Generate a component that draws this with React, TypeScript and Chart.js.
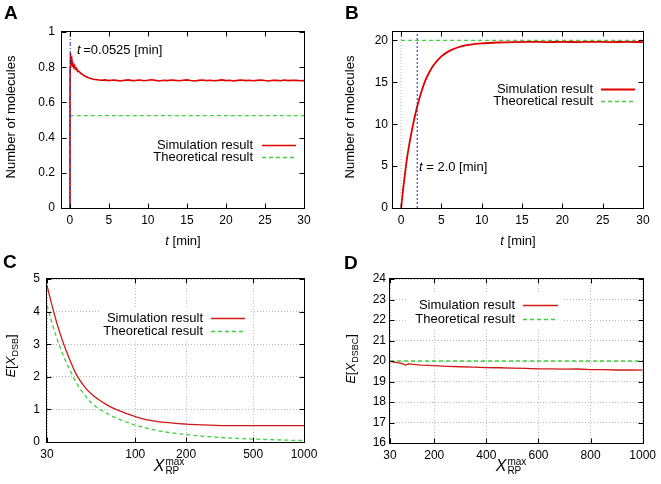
import React, { useEffect, useRef } from "react";
import { Chart, registerables } from "chart.js";

Chart.register(...registerables);

const FONT = "'Liberation Sans', Arial, Helvetica, sans-serif";
Chart.defaults.font.family = FONT;
Chart.defaults.font.size = 12;
Chart.defaults.color = "#000";

// ---------------- Panel A data ----------------
const timesA = [
  0, 0.02, 0.04, 0.05, 0.07, 0.1, 0.15, 0.2, 0.25, 0.3, 0.35, 0.4, 0.5, 0.6, 0.7, 0.8, 0.9, 1.0,
  1.2, 1.4, 1.6, 1.8, 2.0, 2.3, 2.6, 3.0,
  3.5, 4, 4.5, 5, 5.5, 6, 6.5, 7, 7.5, 8, 8.5, 9, 9.5, 10, 10.5, 11, 11.5, 12, 12.5, 13, 13.5, 14,
  14.5, 15, 15.5, 16, 16.5, 17, 17.5, 18, 18.5, 19, 19.5, 20, 20.5, 21, 21.5, 22, 22.5, 23, 23.5,
  24, 24.5, 25, 25.5, 26, 26.5, 27, 27.5, 28, 28.5, 29, 29.5, 30,
];
const simA = [
  0, 0.45, 0.8, 0.88, 0.84, 0.86, 0.82, 0.84, 0.81, 0.83, 0.8, 0.82, 0.8, 0.81, 0.79, 0.795, 0.785, 0.78,
  0.775, 0.765, 0.76, 0.752, 0.748, 0.742, 0.737, 0.732,
  0.729, 0.726, 0.728, 0.724, 0.727, 0.725, 0.722, 0.726, 0.728, 0.724,
  0.725, 0.727, 0.723, 0.726, 0.729, 0.725, 0.722, 0.726, 0.724, 0.727,
  0.725, 0.723, 0.726, 0.728, 0.724, 0.722, 0.725, 0.727, 0.724, 0.726,
  0.723, 0.725, 0.728, 0.724, 0.726, 0.722, 0.725, 0.727, 0.724, 0.726,
  0.723, 0.725, 0.727, 0.724, 0.722, 0.726, 0.725, 0.723, 0.727, 0.724,
  0.726, 0.725, 0.723, 0.724,
];
const theoA = 0.525;
const markerA = 0.0525;
const xRangeA = [-1, 30];
const yRangeA = [0, 1];
const xTicksA = [0, 5, 10, 15, 20, 25, 30];
const yTicksA = [0, 0.2, 0.4, 0.6, 0.8, 1];

// ---------------- Panel B data ----------------
const timesB = [0, 0.25, 0.5, 0.75, 1, 1.5, 2, 2.5, 3, 3.5, 4, 5, 6, 7, 8, 9, 10, 12, 14, 16, 18, 20, 22, 24, 26, 28, 30];
const simB = [0, 2.2, 4.2, 6.0, 7.5, 10.0, 12.1, 13.8, 15.2, 16.2, 17.0, 18.1, 18.75, 19.15, 19.4, 19.55, 19.65, 19.75, 19.8, 19.82, 19.8, 19.81, 19.8, 19.82, 19.8, 19.81, 19.8];
const theoB = 20;
const markerB = 2.0;
const xRangeB = [-1, 30];
const yRangeB = [0, 21];
const xTicksB = [0, 5, 10, 15, 20, 25, 30];
const yTicksB = [0, 5, 10, 15, 20];

// ---------------- Panel C data ----------------
const xC = [30, 32, 34, 36, 38, 40, 45, 50, 55, 60, 70, 80, 90, 100, 120, 150, 200, 250, 300, 400, 500, 600, 700, 800, 1000];
const simC = [4.8, 4.22, 3.72, 3.3, 2.95, 2.65, 2.05, 1.7, 1.47, 1.32, 1.1, 0.96, 0.86, 0.78, 0.67, 0.6, 0.55, 0.525, 0.51, 0.5, 0.5, 0.5, 0.5, 0.5, 0.5];
const theoC = [4.2, 3.68, 3.24, 2.88, 2.58, 2.32, 1.8, 1.45, 1.2, 1.04, 0.84, 0.7, 0.6, 0.52, 0.41, 0.31, 0.23, 0.18, 0.15, 0.11, 0.09, 0.075, 0.065, 0.055, 0.045];
const xRangeC = [30, 1000];
const yRangeC = [0, 5];
const xTicksC = [30, 100, 200, 500, 1000];
const yTicksC = [0, 1, 2, 3, 4, 5];

// ---------------- Panel D data ----------------
const xD = [30, 50, 75, 90, 100, 150, 200, 250, 300, 350, 400, 450, 500, 550, 600, 650, 700, 750, 800, 850, 900, 950, 1000];
const simD = [19.98, 19.93, 19.88, 19.8, 19.86, 19.8, 19.77, 19.74, 19.72, 19.7, 19.68, 19.67, 19.65, 19.64, 19.62, 19.62, 19.6, 19.61, 19.58, 19.58, 19.56, 19.57, 19.55];
const theoD = 20;
const xRangeD = [30, 1000];
const yRangeD = [16, 24];
const xTicksD = [30, 200, 400, 600, 800, 1000];
const yTicksD = [16, 17, 18, 19, 20, 21, 22, 23, 24];

const SIM_LABEL = "Simulation result";
const THEO_LABEL = "Theoretical result";

const RED = "#e00000";
const RED_THIN = "#d01818";
const GREEN = "#3fd03f";
const BLUE = "#2a2aa8";

const pts = (xs: number[], ys: number[]) => {
  const n = Math.min(xs.length, ys.length);
  const out: { x: number; y: number }[] = [];
  for (let i = 0; i < n; i++) out.push({ x: xs[i], y: ys[i] });
  return out;
};
const hline = (y: number, x0: number, x1: number) => [{ x: x0, y }, { x: x1, y }];
const vline = (x: number, y0: number, y1: number) => [{ x, y: y0 }, { x, y: y1 }];

type Legend = {
  textRight: number;
  lineStart: number;
  lineEnd: number;
  rows: number[];
  items: number[];
  box?: [number, number, number, number];
};

type Spec = {
  w: number;
  h: number;
  area: { left: number; top: number; right: number; bottom: number };
  xType: "linear" | "logarithmic";
  xRange: number[];
  yRange: number[];
  xTicks: number[];
  yTicks: number[];
  yFmt?: (v: number) => string;
  grid: boolean;
  yPad: number;
  xPad: number;
  datasets: any[];
  legend: Legend;
};

function gnuPlugin(spec: Spec) {
  return {
    id: "gnu",
    afterDatasetsDraw(chart: any) {
      const ctx: CanvasRenderingContext2D = chart.ctx;
      const { left, right, top, bottom } = chart.chartArea;
      ctx.save();
      const lg = spec.legend;
      if (lg.box) {
        ctx.fillStyle = "#fff";
        ctx.fillRect(lg.box[0], lg.box[1], lg.box[2], lg.box[3]);
      }
      ctx.font = `13px ${FONT}`;
      ctx.textAlign = "right";
      ctx.textBaseline = "middle";
      lg.items.forEach((di, i) => {
        const ds = chart.data.datasets[di];
        const y = lg.rows[i];
        ctx.fillStyle = "#000";
        ctx.fillText(ds.label, lg.textRight, y);
        ctx.strokeStyle = ds.borderColor;
        ctx.lineWidth = ds.borderWidth;
        ctx.setLineDash(ds.borderDash || []);
        ctx.beginPath();
        ctx.moveTo(lg.lineStart, y + 0.5);
        ctx.lineTo(lg.lineEnd, y + 0.5);
        ctx.stroke();
      });
      // frame and inward ticks
      ctx.setLineDash([]);
      ctx.strokeStyle = "#000";
      ctx.lineWidth = 1;
      const L = Math.round(left) - 0.5;
      const R = Math.round(right) + 0.5;
      const T = Math.round(top) - 0.5;
      const B = Math.round(bottom) + 0.5;
      ctx.strokeRect(L, T, R - L, B - T);
      const tl = 5;
      ctx.beginPath();
      chart.scales.x.ticks.forEach((t: any) => {
        const px = Math.round(chart.scales.x.getPixelForValue(t.value)) + 0.5;
        ctx.moveTo(px, B);
        ctx.lineTo(px, B - tl);
        ctx.moveTo(px, T);
        ctx.lineTo(px, T + tl);
      });
      chart.scales.y.ticks.forEach((t: any) => {
        const py = Math.round(chart.scales.y.getPixelForValue(t.value)) + 0.5;
        ctx.moveTo(L, py);
        ctx.lineTo(L + tl, py);
        ctx.moveTo(R, py);
        ctx.lineTo(R - tl, py);
      });
      ctx.stroke();
      ctx.restore();
    },
  };
}

function buildConfig(spec: Spec): any {
  const gridOpt = spec.grid
    ? { display: true, color: "#b8b8b8", lineWidth: 1, drawTicks: false }
    : { display: false, drawTicks: false };
  const borderOpt = { display: false, dash: spec.grid ? [1, 2] : [] };
  return {
    type: "line",
    data: { datasets: spec.datasets },
    options: {
      animation: false,
      responsive: false,
      devicePixelRatio: 1,
      layout: {
        padding: { left: 0, top: spec.area.top, right: spec.w - spec.area.right, bottom: 0 },
      },
      plugins: { legend: { display: false }, tooltip: { enabled: false }, title: { display: false } },
      elements: { point: { radius: 0 } },
      scales: {
        x: {
          type: spec.xType,
          min: spec.xRange[0],
          max: spec.xRange[1],
          grid: gridOpt,
          border: borderOpt,
          afterBuildTicks: (s: any) => {
            s.ticks = spec.xTicks.map((v) => ({ value: v }));
          },
          afterFit: (s: any) => {
            s.height = spec.h - spec.area.bottom;
          },
          ticks: {
            autoSkip: false,
            maxRotation: 0,
            padding: spec.xPad,
            font: { size: 12 },
            callback: (v: any) => String(v),
          },
        },
        y: {
          type: "linear",
          min: spec.yRange[0],
          max: spec.yRange[1],
          grid: gridOpt,
          border: borderOpt,
          afterBuildTicks: (s: any) => {
            s.ticks = spec.yTicks.map((v) => ({ value: v }));
          },
          afterFit: (s: any) => {
            s.width = spec.area.left;
          },
          ticks: {
            autoSkip: false,
            padding: spec.yPad,
            font: { size: 12 },
            callback: (v: any) => (spec.yFmt ? spec.yFmt(v) : String(v)),
          },
        },
      },
    },
    plugins: [gnuPlugin(spec)],
  };
}

function Panel({ x, y, spec }: { x: number; y: number; spec: Spec }) {
  const ref = useRef<HTMLCanvasElement>(null);
  useEffect(() => {
    const chart = new Chart(ref.current as HTMLCanvasElement, buildConfig(spec));
    return () => chart.destroy();
  }, []);
  return (
    <canvas
      ref={ref}
      width={spec.w}
      height={spec.h}
      style={{ position: "absolute", left: x, top: y, width: spec.w, height: spec.h }}
    />
  );
}

const specA: Spec = {
  w: 330,
  h: 242,
  area: { left: 62, top: 32, right: 304, bottom: 208 },
  xType: "linear",
  xRange: xRangeA,
  yRange: yRangeA,
  xTicks: xTicksA,
  yTicks: yTicksA,
  yFmt: (v) => String(Math.round(v * 10) / 10),
  grid: false,
  yPad: 7,
  xPad: 5,
  datasets: [
    { label: "t0", data: vline(markerA, yRangeA[0], yRangeA[1]), borderColor: BLUE, borderWidth: 1, borderDash: [4, 2, 1, 2], pointRadius: 0 },
    { label: SIM_LABEL, data: pts(timesA, simA), borderColor: RED, borderWidth: 1.6, pointRadius: 0 },
    { label: THEO_LABEL, data: hline(theoA, 0, xRangeA[1]), borderColor: GREEN, borderWidth: 1.3, borderDash: [4, 3], pointRadius: 0 },
  ],
  legend: { textRight: 253, lineStart: 262, lineEnd: 296, rows: [145, 157], items: [1, 2] },
};

const specB: Spec = {
  w: 331,
  h: 242,
  area: { left: 63, top: 32, right: 313, bottom: 208 },
  xType: "linear",
  xRange: xRangeB,
  yRange: yRangeB,
  xTicks: xTicksB,
  yTicks: yTicksB,
  grid: false,
  yPad: 5,
  xPad: 5,
  datasets: [
    { label: "zero", data: vline(0, yRangeB[0], yRangeB[1]), borderColor: "#a8a8a8", borderWidth: 1, borderDash: [1, 2], pointRadius: 0 },
    { label: "t2", data: vline(markerB, yRangeB[0], yRangeB[1]), borderColor: BLUE, borderWidth: 1, borderDash: [2, 2], pointRadius: 0 },
    { label: SIM_LABEL, data: pts(timesB, simB), borderColor: RED, borderWidth: 1.8, pointRadius: 0, cubicInterpolationMode: "monotone" },
    { label: THEO_LABEL, data: hline(theoB, 0, xRangeB[1]), borderColor: GREEN, borderWidth: 1.3, borderDash: [4, 3], pointRadius: 0 },
  ],
  legend: { textRight: 263, lineStart: 271, lineEnd: 305, rows: [89, 101], items: [2, 3] },
};

const specC: Spec = {
  w: 330,
  h: 242,
  area: { left: 47, top: 37, right: 304, bottom: 200 },
  xType: "logarithmic",
  xRange: xRangeC,
  yRange: yRangeC,
  xTicks: xTicksC,
  yTicks: yTicksC,
  grid: true,
  yPad: 7,
  xPad: 5,
  datasets: [
    { label: SIM_LABEL, data: pts(xC, simC), borderColor: RED_THIN, borderWidth: 1.3, pointRadius: 0, cubicInterpolationMode: "monotone" },
    { label: THEO_LABEL, data: pts(xC, theoC), borderColor: GREEN, borderWidth: 1.3, borderDash: [4, 3], pointRadius: 0, cubicInterpolationMode: "monotone" },
  ],
  legend: { textRight: 203, lineStart: 211, lineEnd: 245, rows: [76, 89], items: [0, 1], box: [100, 66, 150, 32] },
};

const specD: Spec = {
  w: 331,
  h: 242,
  area: { left: 60, top: 37, right: 313, bottom: 201 },
  xType: "linear",
  xRange: xRangeD,
  yRange: yRangeD,
  xTicks: xTicksD,
  yTicks: yTicksD,
  grid: true,
  yPad: 4,
  xPad: 5,
  datasets: [
    { label: SIM_LABEL, data: pts(xD, simD), borderColor: RED_THIN, borderWidth: 1.3, pointRadius: 0 },
    { label: THEO_LABEL, data: hline(theoD, xRangeD[0], xRangeD[1]), borderColor: GREEN, borderWidth: 1.3, borderDash: [4, 3], pointRadius: 0 },
  ],
  legend: { textRight: 185, lineStart: 193, lineEnd: 228, rows: [63, 77], items: [0, 1], box: [76, 50, 157, 38] },
};

const base: React.CSSProperties = {
  position: "absolute",
  fontFamily: FONT,
  fontSize: 13,
  color: "#000",
  whiteSpace: "nowrap",
  lineHeight: 1,
};
const centered = (cx: number, cy: number, rot = false): React.CSSProperties => ({
  ...base,
  left: cx,
  top: cy,
  transform: `translate(-50%, -50%)${rot ? " rotate(-90deg)" : ""}`,
});
const letter = (l: number, t: number): React.CSSProperties => ({
  ...base,
  left: l,
  top: t,
  fontSize: 19,
  fontWeight: "bold",
});

function XRP({ cx, cy }: { cx: number; cy: number }) {
  return (
    <div style={{ ...centered(cx, cy), display: "flex", alignItems: "center" }}>
      <i style={{ fontSize: 16 }}>X</i>
      <span style={{ display: "inline-flex", flexDirection: "column", fontSize: 10, lineHeight: "9px", marginLeft: 1 }}>
        <span>max</span>
        <span>RP</span>
      </span>
    </div>
  );
}

export default function App() {
  return (
    <div style={{ position: "fixed", left: 0, top: 0, width: 661, height: 484, background: "#fff", overflow: "hidden" }}>
      <Panel x={0} y={0} spec={specA} />
      <Panel x={330} y={0} spec={specB} />
      <Panel x={0} y={242} spec={specC} />
      <Panel x={330} y={242} spec={specD} />

      <div style={letter(4, 3)}>A</div>
      <div style={letter(345, 3)}>B</div>
      <div style={letter(3, 252)}>C</div>
      <div style={letter(344, 253)}>D</div>

      <div style={centered(10, 117, true)}>Number of molecules</div>
      <div style={centered(349, 117, true)}>Number of molecules</div>
      <div style={centered(183, 240)}><i>t</i> [min]</div>
      <div style={centered(518, 240)}><i>t</i> [min]</div>

      <div style={{ ...base, left: 77, top: 43 }}><i>t</i>&thinsp;=0.0525 [min]</div>
      <div style={{ ...base, left: 419, top: 160 }}><i>t</i> = 2.0 [min]</div>

      <div style={centered(10, 356, true)}>
        <i>E</i>[<i>X</i><span style={{ fontSize: 9, position: "relative", top: 3 }}>DSB</span>]
      </div>
      <div style={centered(350, 359, true)}>
        <i>E</i>[<i>X</i><span style={{ fontSize: 9, position: "relative", top: 3 }}>DSBC</span>]
      </div>
      <XRP cx={169} cy={466} />
      <XRP cx={511} cy={466} />
    </div>
  );
}
